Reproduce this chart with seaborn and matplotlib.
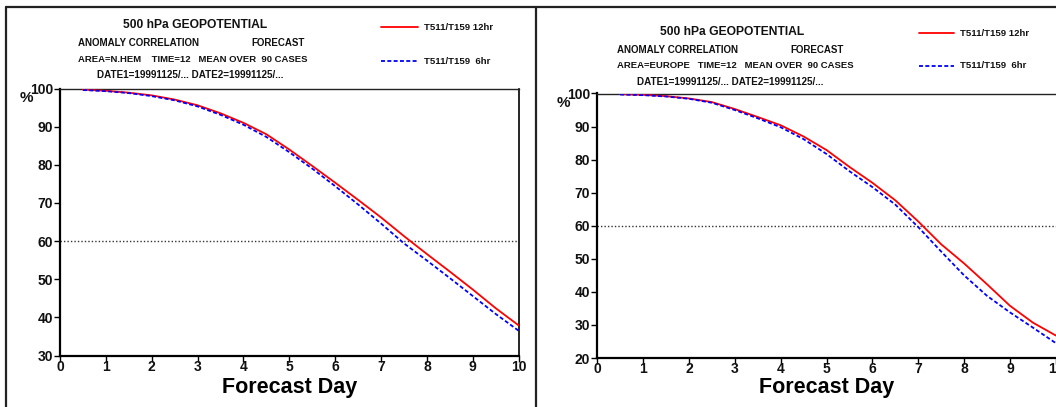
import matplotlib
matplotlib.use("Agg")
import matplotlib.pyplot as plt
import seaborn as sns
import pandas as pd
from matplotlib.lines import Line2D

sns.set_theme(style="white")
plt.rcParams['font.family'] = ['Liberation Sans', 'DejaVu Sans']
plt.rcParams['font.weight'] = 'bold'

# ---------------- data ----------------
days = [0.5, 1.0, 1.5, 2.0, 2.5, 3.0, 3.5, 4.0, 4.5, 5.0,
        5.5, 6.0, 6.5, 7.0, 7.5, 8.0, 8.5, 9.0, 9.5, 10.0]

nhem_12hr = [99.7, 99.4, 98.9, 98.2, 97.1, 95.6, 93.5, 91.0, 88.0, 84.0,
             79.7, 75.3, 70.8, 66.2, 61.3, 56.6, 52.0, 47.3, 42.4, 37.9]
nhem_6hr = [99.6, 99.3, 98.8, 98.0, 96.9, 95.3, 93.1, 90.5, 87.3, 83.3,
            79.0, 74.4, 69.6, 64.6, 59.4, 54.9, 50.3, 45.6, 40.9, 36.5]

europe_12hr = [99.8, 99.6, 99.2, 98.5, 97.4, 95.3, 92.9, 90.4, 87.0, 82.9,
               77.8, 73.0, 67.7, 61.3, 54.4, 48.6, 42.3, 35.8, 30.7, 26.8]
europe_6hr = [99.7, 99.5, 99.1, 98.4, 97.2, 95.0, 92.5, 89.8, 86.2, 81.7,
              76.5, 71.7, 66.4, 59.6, 52.2, 45.0, 38.8, 33.8, 29.2, 24.5]

series_names = ["T511/T159 12hr", "T511/T159  6hr"]
areas = ["N.HEM", "EUROPE"]
y_ticks = {"N.HEM": [30, 40, 50, 60, 70, 80, 90, 100],
           "EUROPE": [20, 30, 40, 50, 60, 70, 80, 90, 100]}
x_ticks = [0, 1, 2, 3, 4, 5, 6, 7, 8, 9, 10]
ref_level = 60

colors = {series_names[0]: "#ff0000", series_names[1]: "#0000ff"}

def long_df(a, b):
    return pd.concat([
        pd.DataFrame({"day": days, "ac": a, "exp": series_names[0]}),
        pd.DataFrame({"day": days, "ac": b, "exp": series_names[1]}),
    ], ignore_index=True)

data = {"N.HEM": long_df(nhem_12hr, nhem_6hr),
        "EUROPE": long_df(europe_12hr, europe_6hr)}

# ---------------- figure ----------------
W, H = 1056, 407
fig = plt.figure(figsize=(W / 100, H / 100), dpi=100)
fig.patch.set_facecolor("white")

def fx(px):
    return px / W

def fy(py):
    return 1 - py / H

def add_axes(x0, x1, y0, y1):
    return fig.add_axes([fx(x0), fy(y1), (x1 - x0) / W, (y1 - y0) / H])

panels = [
    dict(area="N.HEM", box=(60.0, 518.6, 88.5, 355.5), ylim=(30, 100),
         title_y=25, hdr_x=78, fc_x=251, date_x=190.5, title_x=195,
         leg_x=(381, 418), leg_y=(27, 61), pct=(26, 98), fd_y=387,
         line3="AREA=N.HEM    TIME=12   MEAN OVER  90 CASES", right=True),
    dict(area="EUROPE", box=(597.2, 1055.8, 93.5, 358.0), ylim=(20, 100),
         title_y=32, hdr_x=617, fc_x=790, date_x=730, title_x=732,
         leg_x=(919, 954), leg_y=(33, 66), pct=(563, 103), fd_y=388,
         line3="AREA=EUROPE   TIME=12   MEAN OVER  90 CASES", right=False),
]

for p in panels:
    x0, x1, y0, y1 = p["box"]
    ax = add_axes(x0, x1, y0, y1)
    sns.lineplot(data=data[p["area"]], x="day", y="ac", hue="exp", style="exp",
                 palette=colors, dashes={series_names[0]: "", series_names[1]: (2.2, 1.3)},
                 linewidth=1.3, legend=False, ax=ax, zorder=3)
    ax.axhline(ref_level, color="#333333", linestyle=(0, (1, 1.5)), linewidth=1.0, zorder=2)
    ax.set_xlim(0, 10)
    ax.set_ylim(*p["ylim"])
    ax.set_xticks(x_ticks)
    ax.set_yticks(y_ticks[p["area"]])
    ax.set_xticklabels([str(t) for t in x_ticks], fontsize=10, fontweight="bold")
    ax.set_yticklabels([str(t) for t in y_ticks[p["area"]]], fontsize=10, fontweight="bold")
    ax.tick_params(axis="both", direction="out", length=4, width=1.0, color="black",
                   bottom=True, left=True, labelcolor="#111111")
    ax.tick_params(axis="x", pad=-1)
    ax.tick_params(axis="y", pad=1)
    ax.set_xlabel("")
    ax.set_ylabel("")
    ax.set_facecolor("white")
    ax.grid(False)
    for s in ["left", "bottom"]:
        ax.spines[s].set_color("black")
        ax.spines[s].set_linewidth(1.6)
    ax.spines["top"].set_color("#222222")
    ax.spines["top"].set_linewidth(1.0)
    ax.spines["right"].set_visible(p["right"])
    ax.spines["right"].set_color("black")
    ax.spines["right"].set_linewidth(1.2)

    cx = (x0 + x1) / 2
    fig.text(fx(cx), fy(p["fd_y"]), "Forecast Day", ha="center", va="center",
             fontsize=15.5, fontweight="bold", color="black")
    fig.text(fx(p["pct"][0]), fy(p["pct"][1]), "%", ha="center", va="center",
             fontsize=11, fontweight="bold", color="#111111")

    # header text block
    fig.text(fx(p["title_x"]), fy(p["title_y"]), "500 hPa GEOPOTENTIAL", ha="center",
             va="center", fontsize=8.7, fontweight="bold", color="#111111")
    fig.text(fx(p["hdr_x"]), fy(p["title_y"] + 18), "ANOMALY CORRELATION", ha="left",
             va="center", fontsize=7.0, fontweight="bold", color="#111111")
    fig.text(fx(p["fc_x"]), fy(p["title_y"] + 18), "FORECAST", ha="left",
             va="center", fontsize=7.0, fontweight="bold", color="#111111")
    fig.text(fx(p["hdr_x"]), fy(p["title_y"] + 34), p["line3"], ha="left",
             va="center", fontsize=6.8, fontweight="bold", color="#111111")
    fig.text(fx(p["date_x"]), fy(p["title_y"] + 50), "DATE1=19991125/... DATE2=19991125/...",
             ha="center", va="center", fontsize=7.1, fontweight="bold", color="#111111")

    # legend
    lx0, lx1 = p["leg_x"]
    for name, ly in zip(series_names, p["leg_y"]):
        ls = "-" if name == series_names[0] else (0, (2.2, 1.3))
        fig.add_artist(Line2D([fx(lx0), fx(lx1)], [fy(ly), fy(ly)], color=colors[name],
                              linewidth=1.3, linestyle=ls, transform=fig.transFigure))
        fig.text(fx(lx1 + 6), fy(ly), name, ha="left", va="center", fontsize=6.8,
                 fontweight="bold", color="#111111")

# frame lines
frame_kw = dict(color="#222222", linewidth=1.6, transform=fig.transFigure)
fig.add_artist(Line2D([fx(6), fx(W)], [fy(7), fy(7)], **frame_kw))
fig.add_artist(Line2D([fx(6), fx(6)], [fy(7), fy(H)], **frame_kw))
fig.add_artist(Line2D([fx(535.7), fx(535.7)], [fy(7), fy(H)], **frame_kw))

fig.savefig("out.png", dpi=100, facecolor="white")
